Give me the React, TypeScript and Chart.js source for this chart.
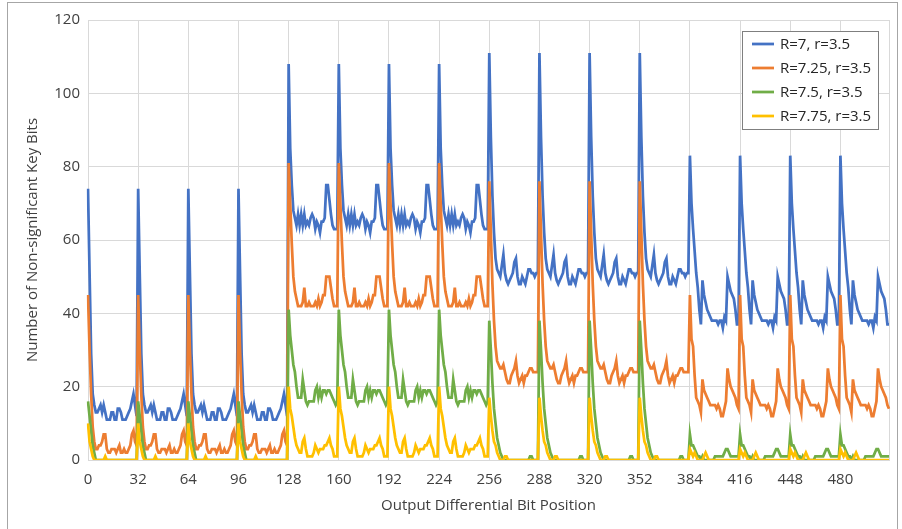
import React, { useEffect, useRef } from "react";
import { Chart, registerables } from "chart.js";

Chart.register(...registerables);

// x tick labels shown on the category axis
const xTickLabels = ["0", "32", "64", "96", "128", "160", "192", "224", "256", "288", "320", "352", "384", "416", "448", "480"];
const categories: string[] = Array.from({ length: 512 }, (_, i) => String(i));

// 32-position blocks (each block repeats 4 times in its group)
const blueA = [74, 51, 29, 18, 15, 13, 13, 14, 15, 13, 15, 13, 11, 11, 11, 13, 13, 11, 11, 14, 14, 13, 11, 11, 11, 12, 13, 14, 16, 18, 15, 12];
const blueB = [108, 85, 75, 68, 66, 64, 67, 64, 67, 64, 67, 64, 65, 64, 66, 67, 66, 63, 65, 64, 62, 65, 65, 66, 75, 75, 71, 67, 64, 63, 63, 63];
const blueC = [111, 88, 72, 62, 55, 52, 51, 50, 53, 56, 51, 49, 48, 49, 50, 51, 54, 55, 50, 48, 48, 50, 49, 48, 50, 52, 52, 51, 51, 50, 51, 51];
const blueD = [83, 70, 63, 57, 51, 47, 41, 37, 49, 45, 43, 41, 40, 39, 38, 38, 38, 38, 37, 38, 38, 36, 39, 38, 50, 48, 46, 45, 44, 41, 37, 37];

const orangeA = [45, 30, 18, 9, 5, 3, 3, 4, 4, 5, 7, 7, 3, 2, 2, 3, 3, 3, 2, 3, 4, 2, 2, 3, 2, 2, 3, 4, 7, 8, 5, 4];
const orangeB = [81, 70, 59, 50, 46, 44, 42, 42, 42, 43, 47, 42, 42, 43, 42, 42, 42, 43, 42, 44, 42, 43, 45, 45, 50, 50, 50, 47, 44, 42, 42, 42];
const orangeC = [76, 62, 48, 38, 31, 27, 26, 25, 25, 26, 24, 22, 21, 21, 23, 24, 25, 27, 23, 21, 22, 23, 21, 23, 23, 24, 25, 25, 24, 24, 24, 24];
const orangeD = [45, 33, 31, 23, 17, 16, 15, 13, 22, 19, 18, 17, 16, 15, 15, 15, 15, 14, 15, 14, 12, 12, 14, 16, 25, 22, 20, 19, 18, 17, 15, 14];

const greenA = [16, 12, 8, 4, 2, 0, 0, 0, 0, 0, 0, 0, 0, 0, 0, 0, 0, 0, 0, 0, 0, 0, 0, 0, 0, 0, 0, 0, 0, 0, 0, 0];
const greenB = [41, 34, 30, 26, 24, 20, 17, 17, 17, 22, 19, 16, 15, 16, 16, 16, 16, 19, 20, 17, 19, 17, 19, 19, 18, 19, 19, 18, 17, 16, 15, 16];
const greenC = [38, 30, 21, 14, 10, 6, 4, 2, 1, 0, 0, 0, 0, 0, 0, 0, 0, 0, 0, 0, 0, 0, 0, 0, 0, 0, 1, 1, 0, 0, 0, 0];
const greenD = [7, 4, 4, 3, 2, 1, 1, 0, 1, 0, 0, 0, 0, 0, 0, 0, 1, 1, 1, 1, 1, 1, 2, 3, 3, 2, 1, 1, 1, 1, 1, 1];

const yellowA = [10, 5, 3, 1, 0, 0, 0, 0, 0, 0, 0, 1, 0, 0, 0, 0, 0, 0, 0, 0, 0, 0, 0, 0, 0, 0, 0, 0, 0, 0, 0, 0];
const yellowB = [20, 14, 12, 9, 6, 4, 3, 2, 2, 5, 6, 3, 1, 1, 1, 1, 2, 4, 3, 2, 3, 3, 3, 4, 4, 5, 6, 4, 3, 1, 1, 1];
const yellowC = [17, 12, 8, 5, 4, 2, 1, 0, 0, 0, 1, 1, 0, 0, 0, 0, 0, 0, 0, 0, 0, 0, 0, 0, 0, 0, 0, 0, 0, 0, 0, 0];
const yellowD = [3, 2, 1, 2, 1, 0, 0, 0, 0, 1, 2, 1, 0, 0, 0, 0, 0, 0, 0, 0, 0, 0, 0, 0, 0, 0, 0, 0, 0, 0, 0, 0];

const blueSeries = [
  ...blueA, ...blueA, ...blueA, ...blueA,
  ...blueB, ...blueB, ...blueB, ...blueB,
  ...blueC, ...blueC, ...blueC, ...blueC,
  ...blueD, ...blueD, ...blueD, ...blueD,
];
const orangeSeries = [
  ...orangeA, ...orangeA, ...orangeA, ...orangeA,
  ...orangeB, ...orangeB, ...orangeB, ...orangeB,
  ...orangeC, ...orangeC, ...orangeC, ...orangeC,
  ...orangeD, ...orangeD, ...orangeD, ...orangeD,
];
const greenSeries = [
  ...greenA, ...greenA, ...greenA, ...greenA,
  ...greenB, ...greenB, ...greenB, ...greenB,
  ...greenC, ...greenC, ...greenC, ...greenC,
  ...greenD, ...greenD, ...greenD, ...greenD,
];
const yellowSeries = [
  ...yellowA, ...yellowA, ...yellowA, ...yellowA,
  ...yellowB, ...yellowB, ...yellowB, ...yellowB,
  ...yellowC, ...yellowC, ...yellowC, ...yellowC,
  ...yellowD, ...yellowD, ...yellowD, ...yellowD,
];

const seriesNames = ["R=7, r=3.5", "R=7.25, r=3.5", "R=7.5, r=3.5", "R=7.75, r=3.5"];
const seriesColors = ["#4472C4", "#ED7D31", "#70AD47", "#FFC000"];

const FONT = "'Open Sans', 'Liberation Sans', sans-serif";
const TEXT = "#404040";
const GRID = "#d9d9d9";

const boxLegend = {
  id: "boxLegend",
  afterDraw(chart: any) {
    const ctx = chart.ctx as CanvasRenderingContext2D;
    ctx.save();
    const bx = 742, by = 31, bw = 136, bh = 98;
    ctx.fillStyle = "#ffffff";
    ctx.fillRect(bx, by, bw, bh);
    ctx.strokeStyle = "#7f7f7f";
    ctx.lineWidth = 1;
    ctx.strokeRect(bx + 0.5, by + 0.5, bw, bh);
    chart.data.datasets.forEach((ds: any, i: number) => {
      const yy = 44 + i * 24;
      ctx.strokeStyle = ds.borderColor;
      ctx.lineWidth = 2.75;
      ctx.beginPath();
      ctx.moveTo(752, yy);
      ctx.lineTo(774, yy);
      ctx.stroke();
      ctx.fillStyle = "#262626";
      ctx.font = `15px ${FONT}`;
      ctx.textBaseline = "middle";
      ctx.textAlign = "left";
      ctx.fillText(ds.label, 780, yy + 1);
    });
    ctx.restore();
  },
};

export default function App() {
  const canvasRef = useRef<HTMLCanvasElement | null>(null);

  useEffect(() => {
    if (!canvasRef.current) return;
    const seriesData = [blueSeries, orangeSeries, greenSeries, yellowSeries];
    const chart = new Chart(canvasRef.current, {
      type: "line",
      data: {
        labels: categories,
        datasets: seriesData.map((d, i) => ({
          label: seriesNames[i],
          data: d,
          borderColor: seriesColors[i],
          backgroundColor: seriesColors[i],
          borderWidth: 2.75,
          pointRadius: 0,
          tension: 0,
          fill: false,
          order: 3 - i,
        })),
      },
      options: {
        animation: false,
        responsive: false,
        maintainAspectRatio: false,
        layout: { padding: { top: 20, right: 13, left: 0, bottom: 0 } },
        plugins: { legend: { display: false }, tooltip: { enabled: false } },
        scales: {
          x: {
            type: "category",
            offset: false,
            grid: {
              color: (c: any) => (c.index % 32 === 0 || c.index === 511 ? GRID : "rgba(0,0,0,0)"),
              drawTicks: false,
              lineWidth: 1,
            },
            border: { display: true, color: GRID },
            ticks: {
              autoSkip: false,
              maxRotation: 0,
              minRotation: 0,
              padding: 11,
              color: TEXT,
              font: { family: FONT, size: 15 },
              callback: (_v: any, i: number) => (xTickLabels.includes(String(i)) ? String(i) : ""),
            },
            title: {
              display: true,
              text: "Output Differential Bit Position",
              color: TEXT,
              font: { family: FONT, size: 15 },
              padding: { top: 0, bottom: 14 },
            },
            afterFit: (s: any) => {
              s.height = 69;
            },
          },
          y: {
            min: 0,
            max: 120,
            ticks: {
              stepSize: 20,
              padding: 8,
              color: TEXT,
              font: { family: FONT, size: 15 },
            },
            grid: { color: GRID, drawTicks: false },
            border: { display: false },
            title: {
              display: true,
              text: "Number of Non-significant Key Bits",
              color: TEXT,
              font: { family: FONT, size: 15 },
              padding: { top: 24, bottom: 0 },
            },
            afterFit: (s: any) => {
              s.width = 88;
            },
          },
        },
      },
      plugins: [boxLegend],
    });
    return () => chart.destroy();
  }, []);

  return (
    <div style={{ position: "fixed", left: 0, top: 0, width: 902, height: 529, background: "#fff" }}>
      <canvas ref={canvasRef} width={902} height={529} style={{ width: 902, height: 529, display: "block" }} />
      <div
        style={{
          position: "absolute",
          left: 7,
          top: 2,
          width: 891,
          height: 527,
          borderLeft: "1px solid #a6a6a6",
          borderTop: "1px solid #a6a6a6",
          borderRight: "1px solid #a6a6a6",
          boxSizing: "border-box",
          pointerEvents: "none",
        }}
      />
    </div>
  );
}
